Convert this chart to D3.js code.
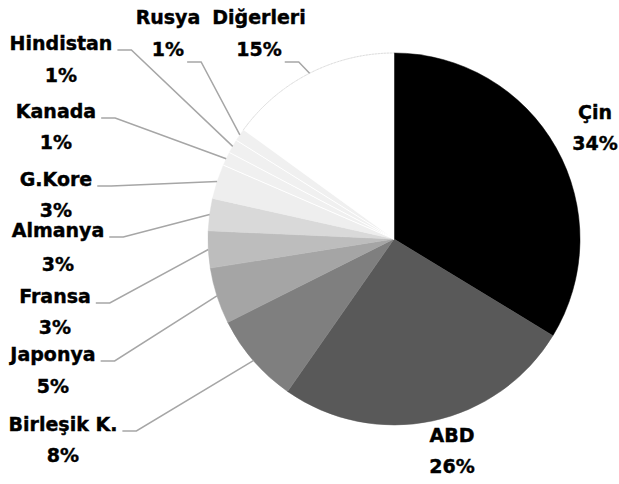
<!DOCTYPE html>
<meta charset="utf-8">
<style>
html, body { margin: 0; padding: 0; background: #fff; }
svg { display: block; }
.lbl { font-family: "DejaVu Sans", sans-serif; font-weight: bold; font-size: 19px; fill: #000; stroke: #000; stroke-width: 0.4px; }
.leader { fill: none; stroke: #a6a6a6; stroke-width: 1.5px; }
</style>
<svg id="chart"></svg>
<script src="https://d3js.org/d3.v7.min.js"></script>
<script>

var width = 619;
var height = 484;

// data (share of total, %)
var countries = ['Çin', 'ABD', 'Birleşik K.', 'Japonya', 'Fransa', 'Almanya', 'G.Kore', 'Kanada', 'Hindistan', 'Rusya', 'Diğerleri'];
var shares = [33.7, 26, 7.9, 4.9, 3.2, 2.8, 3, 1.2, 1.2, 1.1, 15];
var fills = ['#000000', '#595959', '#7f7f7f', '#a5a5a5', '#bdbdbd', '#d9d9d9', '#eeeeee', '#f0f0f0', '#f0f0f0', '#f0f0f0', '#ffffff'];

// label layout: centre x, baseline of name line, baseline of % line, leader type
var labelPos = [
  {x: 595, y1: 119, y2: 150, leader: 'none'},
  {x: 452, y1: 442, y2: 473, leader: 'none'},
  {x: 63, y1: 431, y2: 462, leader: 'name'},
  {x: 53, y1: 361, y2: 393, leader: 'name'},
  {x: 55, y1: 303, y2: 334, leader: 'name'},
  {x: 58, y1: 237, y2: 271, leader: 'name'},
  {x: 56, y1: 186, y2: 217, leader: 'name'},
  {x: 56, y1: 118, y2: 149, leader: 'name'},
  {x: 61, y1: 50, y2: 82, leader: 'name'},
  {x: 168, y1: 24, y2: 56, leader: 'pct'},
  {x: 259, y1: 24, y2: 56, leader: 'pct'}
];

var cx = 394, cy = 239, radius = 186;

var data = countries.map(function (c, i) {
  return {name: c, value: shares[i], fill: fills[i], pos: labelPos[i]};
});

var svg = d3.select('#chart')
  .attr('width', width)
  .attr('height', height);

var pie = d3.pie()
  .sort(null)
  .value(function (d) { return d.value; });

var arc = d3.arc()
  .innerRadius(0)
  .outerRadius(radius);

var arcs = pie(data);

var g = svg.append('g')
  .attr('transform', 'translate(' + cx + ',' + cy + ')');

g.selectAll('path.slice')
  .data(arcs)
  .enter().append('path')
  .attr('class', 'slice')
  .attr('d', arc)
  .attr('fill', function (d) { return d.data.fill; })
  .attr('stroke', function (d) { return d.data.fill; })
  .attr('stroke-width', 0.5);

// thin white separators between the very light slices
g.selectAll('line.sep')
  .data(arcs.filter(function (d, i) {
    return i > 0 && d.data.fill === '#f0f0f0';
  }))
  .enter().append('line')
  .attr('class', 'sep')
  .attr('x1', 0).attr('y1', 0)
  .attr('x2', function (d) { return radius * Math.sin(d.startAngle); })
  .attr('y2', function (d) { return -radius * Math.cos(d.startAngle); })
  .attr('stroke', '#fff')
  .attr('stroke-width', 1);

// faint dotted rim on the white slice
var last = arcs[arcs.length - 1];
g.append('path')
  .attr('d', d3.arc().innerRadius(radius).outerRadius(radius)
    .startAngle(last.startAngle).endAngle(last.endAngle)())
  .attr('fill', 'none')
  .attr('stroke', '#d0d0d0')
  .attr('stroke-width', 1)
  .attr('stroke-dasharray', '1,2');

var labels = svg.selectAll('g.label')
  .data(arcs)
  .enter().append('g')
  .attr('class', 'label');

labels.append('text')
  .attr('class', 'lbl name')
  .attr('text-anchor', 'middle')
  .attr('x', function (d) { return d.data.pos.x; })
  .attr('y', function (d) { return d.data.pos.y1; })
  .text(function (d) { return d.data.name; });

labels.append('text')
  .attr('class', 'lbl pct')
  .attr('text-anchor', 'middle')
  .attr('x', function (d) { return d.data.pos.x; })
  .attr('y', function (d) { return d.data.pos.y2; })
  .text(function (d) { return Math.round(d.data.value) + '%'; });

// leader lines: short horizontal stub, then to the rim at the slice mid-angle
labels.each(function (d) {
  var p = d.data.pos;
  if (p.leader === 'none') return;
  var node = d3.select(this).select(p.leader === 'name' ? 'text.name' : 'text.pct').node();
  var w = node.getComputedTextLength();
  var x0 = p.x + w / 2 + (p.leader === 'name' ? 5 : 3);
  var y0 = p.leader === 'name' ? p.y1 : p.y2 + 6;
  var a = (d.startAngle + d.endAngle) / 2;
  var ex = cx + radius * Math.sin(a);
  var ey = cy - radius * Math.cos(a);
  d3.select(this).insert('path', 'text')
    .attr('class', 'leader')
    .attr('d', d3.line()([[x0, y0], [x0 + 14, y0], [ex, ey]]));
});

</script>
